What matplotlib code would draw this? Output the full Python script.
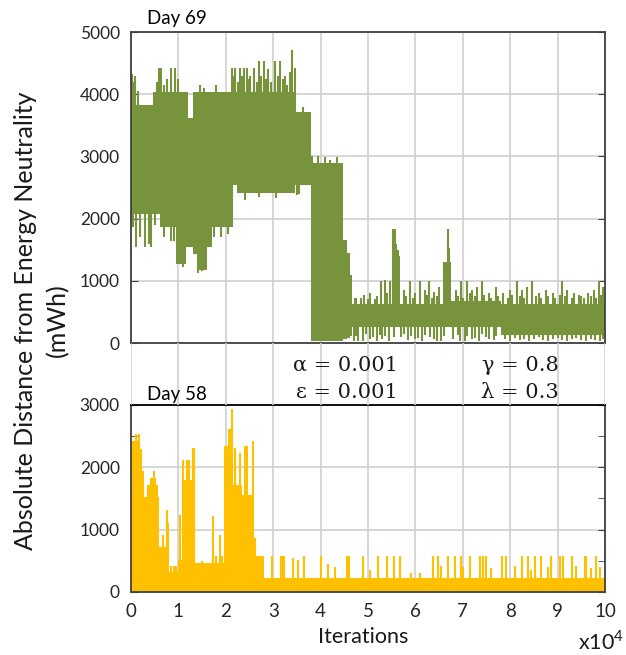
import numpy as np
import matplotlib
matplotlib.use("Agg")
import matplotlib.pyplot as plt
from matplotlib.ticker import MultipleLocator

plt.rcParams['font.family'] = ['Lato', 'DejaVu Sans']
plt.rcParams['mathtext.fontset'] = 'custom'
plt.rcParams['mathtext.rm'] = 'Lato'

GREEN = '#77933c'
YELLOW = '#ffc000'
GRID = '#d0d0d0'
SPINE = '#404040'

# ---- Day 69 (top), x in units of 1e4 iterations, y in mWh ----
top_edges = [0.00, 0.06, 0.46, 0.61, 0.95, 1.15, 1.21, 1.30, 1.40, 1.60, 1.70, 2.16, 2.25,
             3.45, 3.80, 4.48, 4.55, 4.62, 4.66, 5.50, 5.67, 6.62, 6.75, 7.80, 10.0]
top_low = [1860, 2070, 2070, 1860, 1270, 1540, 1540, 1430, 1180, 1540, 1860, 2540, 2420,
           2540, 40, 60, 80, 120, 260, 260, 260, 260, 260, 130]
top_high = [4000, 3820, 4030, 4030, 4030, 4030, 3620, 4030, 4030, 4030, 4030, 4030, 4030,
            3720, 2900, 1660, 1450, 1100, 620, 1400, 620, 1300, 680, 620]
top_up_x = [0.02, 0.04, 0.08, 0.15, 0.55, 0.58, 0.63, 0.70, 0.75, 0.85, 0.93, 1.00, 1.45,
            1.55, 1.80, 2.13, 2.16, 2.20, 2.25, 2.30, 2.35, 2.38, 2.45, 2.50, 2.52, 2.60,
            2.65, 2.70, 2.75, 2.80, 2.85, 2.90, 2.95, 3.04, 3.10, 3.14, 3.20, 3.25, 3.30,
            3.35, 3.40, 3.47, 3.62, 3.82, 3.95, 4.10, 4.20, 4.35,
            4.72, 4.75, 4.85, 4.92, 5.00, 5.05, 5.15, 5.20, 5.27, 5.35, 5.40, 5.47, 5.52,
            5.56, 5.60, 5.63, 5.75, 5.80, 5.89, 5.95, 6.00, 6.10, 6.20, 6.25, 6.29, 6.35,
            6.40, 6.45, 6.50, 6.60, 6.68, 6.72, 6.85, 6.90, 6.97, 7.00, 7.08, 7.15, 7.20,
            7.25, 7.30, 7.41, 7.45, 7.55, 7.60, 7.70, 7.75, 7.85, 7.95, 8.00, 8.05, 8.14,
            8.20, 8.25, 8.30, 8.35, 8.46, 8.55, 8.60, 8.65, 8.75, 8.80, 8.90, 8.95, 9.05,
            9.10, 9.15, 9.20, 9.30, 9.35, 9.45, 9.50, 9.55, 9.65, 9.70, 9.78, 9.82, 9.87,
            9.92, 9.95]
top_up_y = [4330, 4200, 4300, 4050, 4200, 4420, 4420, 4150, 4250, 4420, 4420, 4250, 4150,
            4100, 4150, 4420, 4300, 4420, 4200, 4420, 4300, 4420, 4420, 4250, 4300, 4420,
            4200, 4530, 4300, 4530, 4250, 4400, 4200, 4530, 4300, 4530, 4250, 4300, 4150,
            4350, 4710, 4420, 3800, 3010, 3010, 2990, 2950, 2990,
            720, 720, 720, 780, 700, 800, 700, 760, 1000, 1020, 800, 1000, 1830,
            1830, 1600, 1500, 850, 760, 1000, 720, 800, 1000, 850, 780, 1000, 720,
            820, 760, 900, 1300, 1830, 1530, 850, 760, 1000, 720, 1000, 800, 850,
            760, 900, 1000, 780, 800, 720, 900, 760, 800, 720, 850, 780, 1000,
            760, 850, 720, 900, 1000, 760, 800, 720, 850, 760, 800, 720, 780,
            1000, 760, 850, 720, 800, 780, 750, 720, 800, 760, 850, 720, 1000,
            780, 900]
top_dn_x = [0.10, 0.20, 0.30, 0.38, 0.42, 0.50, 0.70, 0.85, 0.90, 1.10, 1.42, 1.50, 1.75,
            1.90, 2.05, 2.40, 2.70, 3.05, 3.26, 3.50, 3.55,
            4.70, 4.75, 4.80, 4.90, 4.95, 5.05, 5.10, 5.20, 5.25, 5.30, 5.35, 5.45, 5.55,
            5.70, 5.75, 5.85, 5.90, 6.00, 6.05, 6.15, 6.20, 6.30, 6.40, 6.45, 6.55, 6.60,
            6.80, 6.90, 6.95, 7.05, 7.10, 7.20, 7.25, 7.35, 7.40, 7.50, 7.55, 7.65, 7.70,
            7.90, 8.00, 8.10, 8.20, 8.30, 8.40, 8.50, 8.60, 8.70, 8.80, 8.90, 9.00, 9.10,
            9.20, 9.30, 9.40, 9.50, 9.60, 9.70, 9.80, 9.90, 9.95]
top_dn_y = [1540, 1700, 1540, 1600, 1540, 1900, 1700, 1640, 1640, 1220, 1120, 1150, 1700,
            1700, 1750, 2300, 2350, 2330, 2430, 2380, 2400,
            30, 120, 40, 30, 150, 60, 100, 40, 130, 60, 120, 30, 100,
            100, 140, 50, 120, 60, 80, 40, 130, 100, 60, 40, 30, 120,
            60, 130, 40, 30, 110, 60, 80, 40, 140, 100, 60, 50, 120,
            60, 40, 80, 50, 70, 30, 60, 90, 50, 40, 60, 80, 50,
            30, 60, 80, 50, 40, 70, 50, 30, 60]

# ---- Day 58 (bottom) ----
bot_edges = [0.00, 0.03, 0.17, 0.20, 0.28, 0.33, 0.44, 0.52, 0.60, 0.80, 1.00, 1.10, 1.35,
             1.97, 2.05, 2.12, 2.35, 2.55, 2.80, 10.0]
bot_low = [15] * 19
bot_high = [1935, 2420, 2120, 1670, 1530, 1720, 1830, 1530, 725, 320, 510, 1800, 470,
            2340, 2620, 1720, 1560, 575, 220]
bot_up_x = [0.02, 0.10, 0.17, 0.22, 0.25, 0.42, 0.48, 0.55, 0.68, 0.75, 0.78, 0.85, 0.90,
            0.95, 1.03, 1.10, 1.18, 1.23, 1.30, 1.33, 1.50, 1.72, 1.80, 1.87, 1.92, 2.13,
            2.20, 2.30, 2.40, 2.45, 2.58, 2.62, 2.68, 2.75, 2.97, 3.17, 3.20, 3.23, 3.41,
            3.53, 3.65, 4.00, 4.15, 4.30, 4.55, 4.60, 4.89, 5.05, 5.22, 5.41, 5.54, 5.68,
            5.90, 6.10, 6.38, 6.48, 6.55, 6.69, 6.83, 6.97, 7.00, 7.15, 7.36, 7.43, 7.50,
            7.60, 7.82, 7.92, 8.10, 8.24, 8.38, 8.45, 8.52, 8.66, 8.80, 8.87, 9.05, 9.12,
            9.30, 9.40, 9.58, 9.61, 9.70, 9.81, 9.90]
bot_up_y = [2420, 2530, 2530, 2300, 1935, 1830, 1935, 1720, 915, 1317, 1100, 420, 420,
            420, 1240, 2120, 2120, 2120, 2310, 2310, 500, 1220, 575, 915, 575, 2930,
            2310, 2230, 2340, 2340, 2430, 865, 578, 578, 578, 578, 578, 578, 540,
            520, 578, 578, 450, 400, 578, 578, 578, 350, 578, 578, 578, 578,
            300, 300, 578, 578, 420, 578, 578, 578, 400, 578, 578, 578, 578,
            380, 578, 578, 420, 578, 578, 350, 578, 578, 400, 578, 578, 578,
            578, 420, 578, 578, 380, 578, 400]

x_ticks = list(range(0, 11))
top_yticks = [0, 1000, 2000, 3000, 4000, 5000]
bot_yticks = [0, 1000, 2000, 3000]


def draw_band(ax, edges, low, high, up_x, up_y, dn_x, dn_y, color):
    e = np.asarray(edges)
    lo = np.asarray(low, float)
    hi = np.asarray(high, float)
    ax.fill_between(e, np.append(lo, lo[-1]), np.append(hi, hi[-1]),
                    step='post', color=color, lw=0, zorder=2)
    if up_x:
        i = np.clip(np.searchsorted(e, up_x, side='right') - 1, 0, len(lo) - 1)
        ax.vlines(up_x, lo[i], up_y, color=color, lw=1.5, zorder=2)
    if dn_x:
        i = np.clip(np.searchsorted(e, dn_x, side='right') - 1, 0, len(lo) - 1)
        ax.vlines(dn_x, dn_y, hi[i], color=color, lw=1.5, zorder=2)


def style(ax, yticks, ymax):
    ax.set_xlim(0, 10)
    ax.set_ylim(0, ymax)
    ax.set_xticks(x_ticks)
    ax.set_yticks(yticks)
    ax.grid(True, color=GRID, lw=1.2)
    ax.set_axisbelow(True)
    for s in ax.spines.values():
        s.set_color(SPINE)
        s.set_linewidth(1.3)
    ax.tick_params(axis='y', direction='in', right=True, length=5, color=SPINE,
                   labelsize=12.5, labelcolor='#262626', pad=8)
    ax.tick_params(axis='x', length=0, labelsize=13.5, labelcolor='#262626', pad=8)


fig = plt.figure(figsize=(6.26, 6.55), dpi=100)
ax1 = fig.add_axes([0.2093, 0.4763, 0.757, 0.4748])
ax2 = fig.add_axes([0.2093, 0.0962, 0.757, 0.2855])
axm = fig.add_axes([0.2093, 0.3817, 0.757, 0.0946])

draw_band(ax1, top_edges, top_low, top_high, top_up_x, top_up_y, top_dn_x, top_dn_y, GREEN)
style(ax1, top_yticks, 5000)
ax1.tick_params(axis='x', labelbottom=False)

draw_band(ax2, bot_edges, bot_low, bot_high, bot_up_x, bot_up_y, [], [], YELLOW)
style(ax2, bot_yticks, 3000)
ax2.yaxis.set_minor_locator(MultipleLocator(500))
ax2.tick_params(axis='y', which='minor', direction='in', right=True, length=5, color=SPINE)
ax2.spines['top'].set_color('black')

# vertical grid continues through the gap between panels
axm.set_xlim(0, 10)
axm.set_ylim(0, 1)
axm.axis('off')
axm.vlines(x_ticks, 0, 1, color=GRID, lw=1.2, zorder=0)

mfont = dict(family=['DejaVu Serif'], fontsize=15, color='#1a1a1a')
axm.text(5.63, 0.64, 'α = 0.001', ha='right', va='center', **mfont)
axm.text(5.63, 0.20, 'ε = 0.001', ha='right', va='center', **mfont)
axm.text(9.03, 0.64, 'γ = 0.8', ha='right', va='center', **mfont)
axm.text(9.03, 0.20, 'λ = 0.3', ha='right', va='center', **mfont)

fig.text(0.235, 0.9725, 'Day 69', fontsize=13.5, va='center', ha='left')
fig.text(0.235, 0.398, 'Day 58', fontsize=13.5, va='center', ha='left')
fig.text(0.066, 0.511, 'Absolute Distance from Energy Neutrality\n(mWh)', rotation=90,
         ha='center', va='center', multialignment='center', fontsize=18,
         linespacing=1.45, color='#1a1a1a')
fig.text(0.580, 0.0275, 'Iterations', ha='center', va='center', fontsize=15.5, color='#1a1a1a')
fig.text(0.960, 0.020, r'x10$^4$', ha='center', va='center', fontsize=15.5, color='#1a1a1a')

fig.savefig('out.png', dpi=100)
